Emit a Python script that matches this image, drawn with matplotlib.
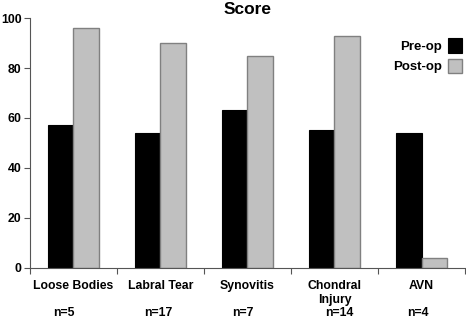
import matplotlib.pyplot as plt
import numpy as np

plt.rcParams['font.family'] = ['Liberation Sans', 'DejaVu Sans']
plt.rcParams['font.weight'] = 'bold'

categories = ['Loose Bodies', 'Labral Tear', 'Synovitis', 'Chondral\nInjury', 'AVN']
n_labels = ['n=5', 'n=17', 'n=7', 'n=14', 'n=4']
pre_op = [57, 54, 63, 55, 54]
post_op = [96, 90, 85, 93, 4]

fig = plt.figure(figsize=(4.66, 3.22), dpi=100)
ax = fig.add_axes([0.064, 0.168, 0.934, 0.776])

x = np.arange(len(categories))
w = 0.29
ax.bar(x - w / 2, pre_op, w, color='black', edgecolor='black', linewidth=0.8, label='Pre-op')
ax.bar(x + w / 2, post_op, w, color='#c0c0c0', edgecolor='#808080', linewidth=1.0, label='Post-op')

ax.set_xlim(-0.5, len(categories) - 0.5)
ax.set_ylim(0, 100)
ax.set_yticks(range(0, 101, 20))
ax.set_xticks(x)
ax.set_xticklabels(categories, fontsize=8.8, fontweight='bold', linespacing=1.2)
ax.set_xticks(np.arange(-0.5, len(categories), 1), minor=True)
ax.tick_params(axis='x', which='major', length=0, pad=9)
ax.tick_params(axis='x', which='minor', length=4, color='#555555', width=0.8)
ax.tick_params(axis='y', length=4, color='#555555', width=0.8, labelsize=8.8, pad=2)
for lab in ax.get_yticklabels():
    lab.set_fontweight('bold')

for s in ['top', 'right']:
    ax.spines[s].set_visible(False)
for s in ['left', 'bottom']:
    ax.spines[s].set_color('#555555')
    ax.spines[s].set_linewidth(0.8)

# n= labels under the categories
n_offsets = [-0.11, -0.03, -0.05, 0.06, -0.04]
for i, t in enumerate(n_labels):
    ax.text(x[i] + n_offsets[i], -0.18, t, transform=ax.get_xaxis_transform(),
            ha='center', va='center', fontsize=8.8, fontweight='bold')

ax.set_title('Score', fontsize=12.5, fontweight='bold', pad=3)

leg = ax.legend(loc='upper right', bbox_to_anchor=(1.004, 0.94), frameon=False,
                markerfirst=False, handlelength=1.0, handleheight=1.3,
                handletextpad=0.5, labelspacing=0.45, borderaxespad=0.0,
                prop={'size': 9.5, 'weight': 'bold'})

fig.savefig('out.png', dpi=100)
